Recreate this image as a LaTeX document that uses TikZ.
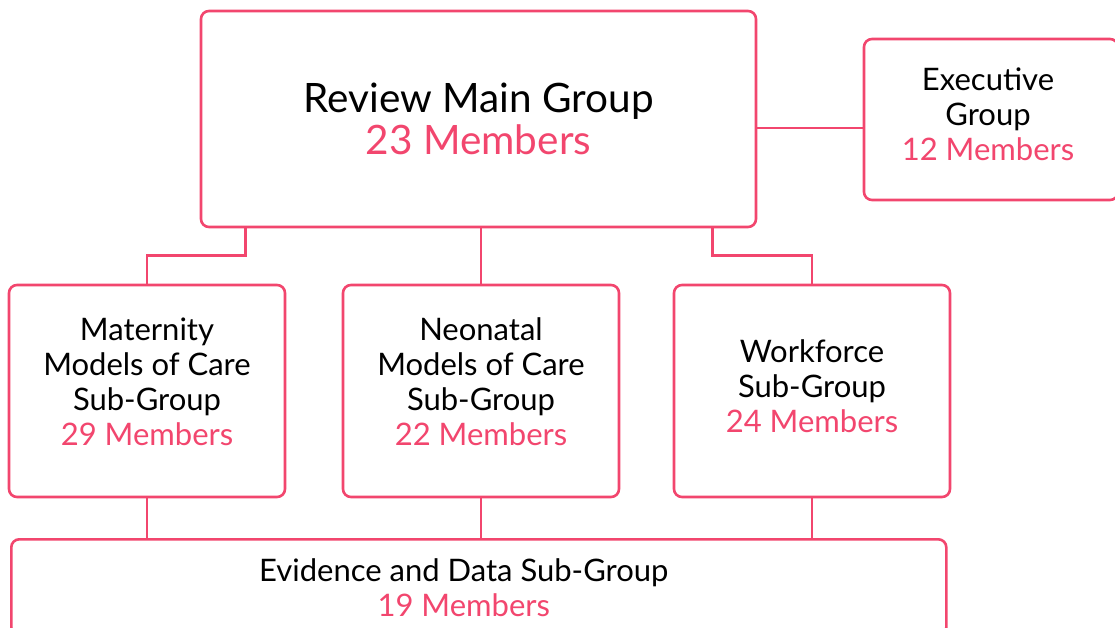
\documentclass[tikz,border=0pt]{standalone}
\usepackage{fontspec}
\setmainfont{Lato}
\usetikzlibrary{positioning}
\definecolor{rosered}{HTML}{F2466E}
\newcommand{\members}[1]{\textcolor{rosered}{#1 Members}}
\newcommand{\liftby}[1]{\\[-#1]\mbox{}}

\tikzset{
	groupbox/.style={draw=rosered, line width=2.6pt, rounded corners=8pt, fill=white,
		align=center, inner sep=0pt, font=\fontsize{31}{35}\selectfont},
	link/.style={draw=rosered, line width=2.6pt}
}

\begin{document}
\begin{tikzpicture}[x=1pt,y=-1pt]
	\useasboundingbox (0,0) rectangle (1115,628);

	% top row
	\node[groupbox, minimum width=555, minimum height=216, font=\fontsize{40.5}{42}\selectfont] (main) at (478.5,119)
		{Review Main Group\\ \members{23}};
	\node[groupbox, minimum width=254, minimum height=161] (exec) at (991,119.5)
		{\hspace*{-6pt}Executive\\ \hspace*{-6pt}Group\\ \hspace*{-6pt}\members{12}\liftby{25pt}};

	% sub-groups
	\node[groupbox, minimum width=276, minimum height=212] (mat) at (147,391)
		{Maternity\\ Models of Care\\ Sub-Group\\ \members{29}\liftby{17pt}};
	\node[groupbox, minimum width=276, minimum height=212] (neo) at (481,391)
		{Neonatal\\ Models of Care\\ Sub-Group\\ \members{22}\liftby{17pt}};
	\node[groupbox, minimum width=276, minimum height=212] (work) at (812,391)
		{Workforce\\ Sub-Group\\ \members{24}\liftby{25pt}};

	\node[groupbox, minimum width=935, minimum height=96, anchor=north west] (evid) at (10,538)
		{\hspace*{-30pt}Evidence and Data Sub-Group\\ \hspace*{-30pt}\members{19}};

	% links
	\draw[link] ([yshift=-9]main.east) -- ([yshift=-8.5]exec.west);
	\draw[link] ([xshift=46]main.south west) -- ++(0,27) -| (mat.north);
	\draw[link] (main.south -| neo.north) -- (neo.north);
	\draw[link] ([xshift=-45]main.south east) -- ++(0,27) -| (work.north);
	\draw[link] (mat.south) -- (mat.south |- evid.north);
	\draw[link] (neo.south) -- (neo.south |- evid.north);
	\draw[link] (work.south) -- (work.south |- evid.north);
\end{tikzpicture}
\end{document}
